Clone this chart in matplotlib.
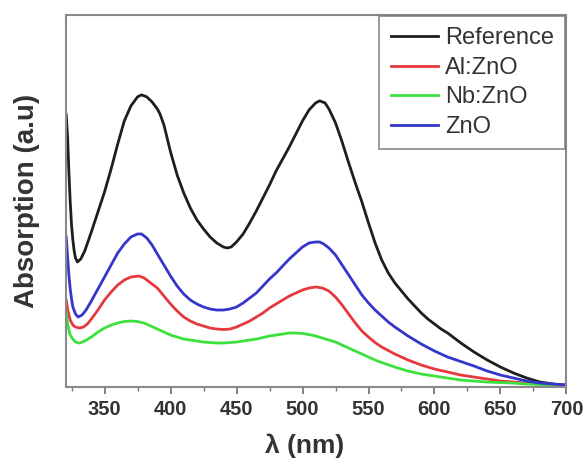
import matplotlib
matplotlib.use("Agg")
import matplotlib.pyplot as plt
from matplotlib.ticker import MultipleLocator

plt.rcParams['font.family'] = ['Liberation Sans', 'DejaVu Sans']

# Wavelength (nm) and absorption (a.u.)
wl_ref = [321, 322, 323, 324, 325, 326, 327, 328, 329.5, 332, 335, 340, 345, 350, 355, 360, 365, 370, 375, 378,
          382, 386, 390, 392, 395, 400, 405, 410, 415, 420, 425, 430, 435, 440, 443, 446, 450, 455, 460, 465,
          470, 475, 480, 485, 490, 495, 500, 505, 510, 513, 517, 520, 525, 530, 535, 540, 545, 550, 555, 560,
          565, 570, 575, 580, 585, 590, 595, 600, 605, 610, 620, 630, 640, 650, 660, 670, 680, 690, 700]
abs_ref = [272, 250, 215, 185, 162, 147, 136, 129, 125, 128, 136, 155, 175, 195, 218, 243, 266, 281, 290, 292,
           290, 285, 278, 273, 262, 235, 212, 194, 179, 167, 158, 150, 144, 140, 139, 140, 145, 153, 164, 176,
           189, 202, 216, 228, 240, 253, 266, 277, 284, 286, 284, 278, 264, 245, 224, 204, 185, 164, 144, 127,
           114, 104, 96, 88, 81, 74, 68, 63, 58, 54, 44, 35, 27, 20, 14, 9, 5, 3, 2]

wl_al = [321, 322, 323, 324, 326, 328, 331, 334, 337, 340, 345, 350, 355, 360, 365, 370, 376, 380, 385, 390,
         395, 400, 405, 410, 415, 420, 425, 430, 435, 440, 445, 450, 455, 460, 465, 470, 475, 480, 485, 490,
         495, 500, 505, 510, 515, 520, 525, 530, 535, 540, 545, 550, 555, 560, 570, 580, 590, 600, 610, 620,
         630, 640, 650, 660, 670, 680, 690, 700]
abs_al = [87, 78, 72, 67, 62, 60, 59, 60, 63, 68, 77, 87, 95, 102, 107, 110, 111, 109, 104, 99,
          91, 83, 76, 70, 66, 63, 61, 59, 58, 57.5, 58, 60, 63, 66, 70, 74, 79, 83, 87, 91,
          94, 97, 99, 100, 99, 96, 90, 82, 73, 64, 56, 50, 44.5, 40, 33, 27, 22, 18, 15, 12,
          10, 8, 6, 5, 4, 3, 2, 2]

wl_nb = [321, 322, 323, 324, 326, 328, 331, 335, 340, 345, 350, 355, 360, 365, 370, 375, 380, 385, 390, 395,
         400, 405, 410, 415, 420, 425, 430, 435, 440, 445, 450, 455, 460, 465, 470, 475, 480, 485, 490, 495,
         500, 505, 510, 515, 520, 525, 530, 535, 540, 545, 550, 555, 560, 570, 580, 590, 600, 610, 620, 630,
         640, 650, 660, 670, 680, 690, 700]
abs_nb = [75, 64, 57, 52, 48, 45, 44, 46, 50, 55, 59, 62, 64, 65.5, 66, 65.5, 64, 61, 58, 55,
          52, 50, 48, 47, 46, 45, 44.5, 44, 44, 44.5, 45, 46, 47, 48, 49.5, 51, 52, 53, 54, 54,
          53.5, 52.5, 51, 49, 47, 45, 42, 39, 36, 33, 30, 27, 24.5, 20, 16, 13, 11, 9, 7, 6,
          5, 4.5, 4, 3, 2.5, 2, 1.5]

wl_zn = [321, 322, 323, 324, 325, 326, 328, 330, 333, 336, 340, 345, 350, 355, 360, 365, 370, 375, 378, 382,
         386, 390, 395, 400, 405, 410, 415, 420, 425, 430, 435, 440, 445, 450, 455, 460, 465, 470, 475, 480,
         485, 490, 495, 500, 505, 510, 513, 516, 520, 525, 530, 535, 540, 545, 550, 555, 560, 565, 570, 575,
         580, 590, 600, 610, 620, 630, 640, 650, 660, 670, 680, 690, 700]
abs_zn = [150, 130, 112, 98, 88, 80, 73, 70, 72, 77, 86, 98, 110, 122, 134, 143, 150, 153, 153, 149,
          142, 133, 122, 111, 101, 93, 87, 83, 80, 78, 77, 77, 78, 80, 84, 89, 94, 101, 108, 114,
          121, 128, 134, 140, 144, 145, 145, 143, 139, 132, 122, 112, 102, 92, 84, 77, 71, 65, 60, 55.5,
          51, 43, 36, 30, 25.5, 21, 16, 12, 9, 6, 4, 3, 2]

labels = ['Reference', 'Al:ZnO', 'Nb:ZnO', 'ZnO']
colors = ['#1e1e1e', '#e6393e', '#3ee03e', '#3535cc']

fig = plt.figure(figsize=(5.84, 4.63), dpi=100)
ax = fig.add_axes([0.113, 0.164, 0.857, 0.804])

series = [(wl_ref, abs_ref), (wl_al, abs_al), (wl_nb, abs_nb), (wl_zn, abs_zn)]
for (x, y), lab, c in zip(series, labels, colors):
    ax.plot(x, y, color=c, lw=2.0, label=lab)

ax.set_xlim(320.8, 700)
ax.set_ylim(0, 372)
ax.xaxis.set_major_locator(MultipleLocator(50))
ax.xaxis.set_minor_locator(MultipleLocator(25))
ax.set_yticks([])
for s in ax.spines.values():
    s.set_color('#8a8a8a')
    s.set_linewidth(1.5)
ax.tick_params(axis='x', which='major', direction='out', length=5, width=1.3, color='#777777',
               labelsize=14.5, labelcolor='#333333', pad=4)
ax.tick_params(axis='x', which='minor', direction='out', length=3, width=1.0, color='#777777')
for t in ax.get_xticklabels():
    t.set_fontweight('bold')

ax.set_xlabel('λ (nm)', fontsize=19, fontweight='bold', color='#333333', labelpad=6)
ax.xaxis.set_label_coords(0.476, -0.125)
ax.set_ylabel('Absorption (a.u)', fontsize=20, fontweight='bold', color='#333333', labelpad=19)

leg = ax.legend(loc='upper right', fontsize=17, frameon=True, fancybox=False,
                borderaxespad=0.05, handlelength=2.0, handletextpad=0.3, labelspacing=0.32,
                borderpad=0.48)
leg.get_frame().set_edgecolor('#777777')
leg.get_frame().set_linewidth(1.3)
for t in leg.get_texts():
    t.set_color('#333333')

fig.savefig('out.png', dpi=100)
